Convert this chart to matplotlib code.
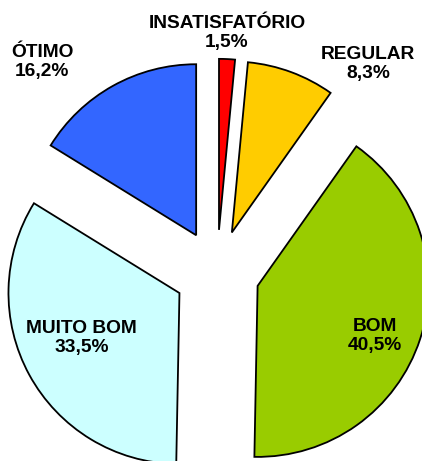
import matplotlib
matplotlib.use("Agg")
import matplotlib.pyplot as plt

categories = ["INSATISFATÓRIO", "REGULAR", "BOM", "MUITO BOM", "ÓTIMO"]
values = [1.5, 8.3, 40.5, 33.5, 16.2]
colors = ["#FF0000", "#FFCC00", "#99CC00", "#CCFFFF", "#3366FF"]
# label anchor in axes fraction (placed by hand in the original)
label_pos = [(0.538, 0.928), (0.872, 0.861), (0.889, 0.271),
             (0.194, 0.267), (0.100, 0.866)]

plt.rcParams["font.family"] = ["Liberation Sans", "DejaVu Sans"]

fig = plt.figure(figsize=(4.22, 4.61), dpi=100)
ax = fig.add_axes([0, 0, 1, 1])

ax.pie(values, colors=colors, startangle=90, counterclock=False,
       explode=[0.25] * len(values),
       wedgeprops=dict(edgecolor="black", linewidth=1.3))

ax.set_aspect("equal")
ax.set_xlim(-1.269, 1.199)
ax.set_ylim(-1.102, 1.594)
ax.axis("off")

for name, v, (x, y) in zip(categories, values, label_pos):
    txt = name + "\n" + ("%.1f%%" % v).replace(".", ",")
    ax.text(x, y, txt, transform=ax.transAxes, ha="center", va="center",
            fontsize=13.8, fontweight="bold", linespacing=1.15)

fig.savefig("out.png", dpi=100)
